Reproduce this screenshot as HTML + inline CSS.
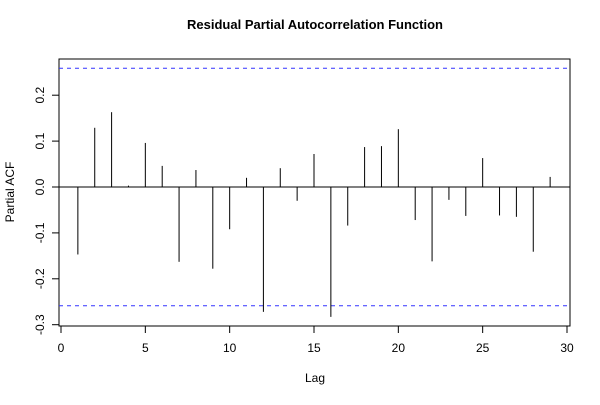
<!DOCTYPE html>
<html><head><meta charset="utf-8"><style>
body{margin:0;background:#fff}
svg text{font-family:"Liberation Sans",Arial,sans-serif}
</style></head><body>
<svg width="600" height="400" xmlns="http://www.w3.org/2000/svg">
<rect width="600" height="400" fill="#fff"/>
<text x="315" y="29" text-anchor="middle" font-size="13" font-weight="bold">Residual Partial Autocorrelation Function</text>
<text x="315" y="382" text-anchor="middle" font-size="12">Lag</text>
<text transform="translate(14,192) rotate(-90)" text-anchor="middle" font-size="12">Partial ACF</text>
<rect x="59" y="59" width="511" height="267" fill="none" stroke="#000" stroke-width="1"/>
<g id="g"></g>
</svg>
<script>
const lags=[1,2,3,4,5,6,7,8,9,10,11,12,13,14,15,16,17,18,19,20,21,22,23,24,25,26,27,28,29];
const pacf=[-0.147,0.129,0.163,0.003,0.096,0.046,-0.163,0.037,-0.178,-0.092,0.02,-0.272,0.041,-0.03,0.072,-0.283,-0.084,0.087,0.089,0.126,-0.072,-0.162,-0.028,-0.063,0.063,-0.062,-0.065,-0.141,0.022];
const xTicks=[0,5,10,15,20,25,30];
const yTicks=[-0.3,-0.2,-0.1,0.0,0.1,0.2];
const yTickLabels=["-0.3","-0.2","-0.1","0.0","0.1","0.2"];
const ciBound=0.2586;
const X=v=>61+v*(506/30);
const Y=v=>187-v*459;
const g=document.getElementById('g');
const NS='http://www.w3.org/2000/svg';
function mk(t,a){const e=document.createElementNS(NS,t);for(const k in a)e.setAttribute(k,a[k]);g.appendChild(e);return e;}
let e;
e=mk('line',{x1:59,x2:570,y1:Y(0),y2:Y(0),stroke:'#000'});


[ciBound,-ciBound].forEach((c,i)=>{
 e=mk('line',{x1:59,x2:570,y1:Y(c),y2:Y(c),stroke:'#3333ff','stroke-dasharray':'4,4'});
 
 
});
lags.forEach((l,i)=>{
 e=mk('line',{x1:X(l),x2:X(l),y1:Y(0),y2:Y(pacf[i]),stroke:'#000'});
 
 
});
xTicks.forEach(t=>{
 e=mk('line',{x1:X(t),x2:X(t),y1:326,y2:333,stroke:'#000'});
 
 
 e=mk('text',{x:X(t),y:352,'text-anchor':'middle','font-size':'12'});e.textContent=t;
 
 
});
yTicks.forEach((t,i)=>{
 e=mk('line',{x1:52,x2:59,y1:Y(t),y2:Y(t),stroke:'#000'});
 
 
 e=mk('text',{transform:`translate(44,${Y(t)}) rotate(-90)`,'text-anchor':'middle','font-size':'12'});e.textContent=yTickLabels[i];
 
 
});
</script>
</body></html>
